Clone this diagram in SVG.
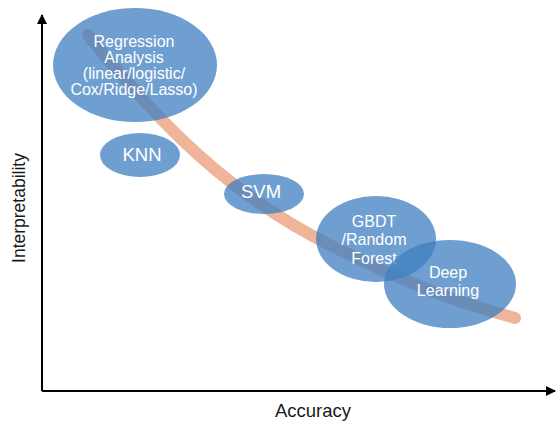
<svg xmlns="http://www.w3.org/2000/svg" width="557" height="422" viewBox="0 0 557 422">
<defs>
<style>
.node{fill:#3f7fc0;fill-opacity:0.75}
.lbl{fill:#ffffff;font-family:"Liberation Sans",Arial,sans-serif;text-anchor:middle}
.axis{stroke:#000;stroke-width:2;fill:none}
.axlbl{fill:#1a1a1a;font-family:"Liberation Sans",Arial,sans-serif;text-anchor:middle}
</style>
<marker id="arr" viewBox="0 0 10 10" refX="9" refY="5" markerWidth="5" markerHeight="5" orient="auto" markerUnits="strokeWidth">
<path d="M0,0 L10,5 L0,10 z" fill="#000"/>
</marker>
</defs>
<rect width="557" height="422" fill="#fff"/>
<g id="connectors">
<path d="M42,391 L42,15" class="axis" marker-end="url(#arr)"/>
<path d="M42,391 L555,391" class="axis" marker-end="url(#arr)"/>
<path id="trend" d="M88,35 C160,125 230,195 330,245 S470,305 515,318" fill="none" stroke="#f0b49a" stroke-width="12" stroke-linecap="round"/>
</g>
<g id="regression">
<ellipse class="node" cx="135" cy="65" rx="82" ry="57"/>
<text class="lbl" font-size="16" x="134" y="47">Regression</text>
<text class="lbl" font-size="16" x="134" y="63">Analysis</text>
<text class="lbl" font-size="16" x="134" y="79">(linear/logistic/</text>
<text class="lbl" font-size="16" x="134" y="95">Cox/Ridge/Lasso)</text>
</g>
<g id="knn">
<ellipse class="node" cx="140" cy="155" rx="40" ry="22"/>
<text class="lbl" font-size="18.5" x="142" y="161">KNN</text>
</g>
<g id="svm">
<ellipse class="node" cx="264" cy="194" rx="40" ry="20"/>
<text class="lbl" font-size="18.5" x="261" y="198">SVM</text>
</g>
<g id="gbdt">
<ellipse class="node" cx="376" cy="239" rx="60" ry="43"/>
<text class="lbl" font-size="16" x="374" y="227">GBDT</text>
<text class="lbl" font-size="16" x="374" y="245">/Random</text>
<text class="lbl" font-size="16" x="374" y="264">Forest</text>
</g>
<g id="deep">
<ellipse class="node" cx="450" cy="284" rx="66" ry="44"/>
<text class="lbl" font-size="16" x="448" y="278">Deep</text>
<text class="lbl" font-size="16" x="448" y="296">Learning</text>
</g>
<g id="axis-labels">
<text class="axlbl" font-size="18.5" x="313" y="417">Accuracy</text>
<text class="axlbl" font-size="17.5" transform="translate(25,208) rotate(-90)" x="0" y="0">Interpretability</text>
</g>
</svg>
